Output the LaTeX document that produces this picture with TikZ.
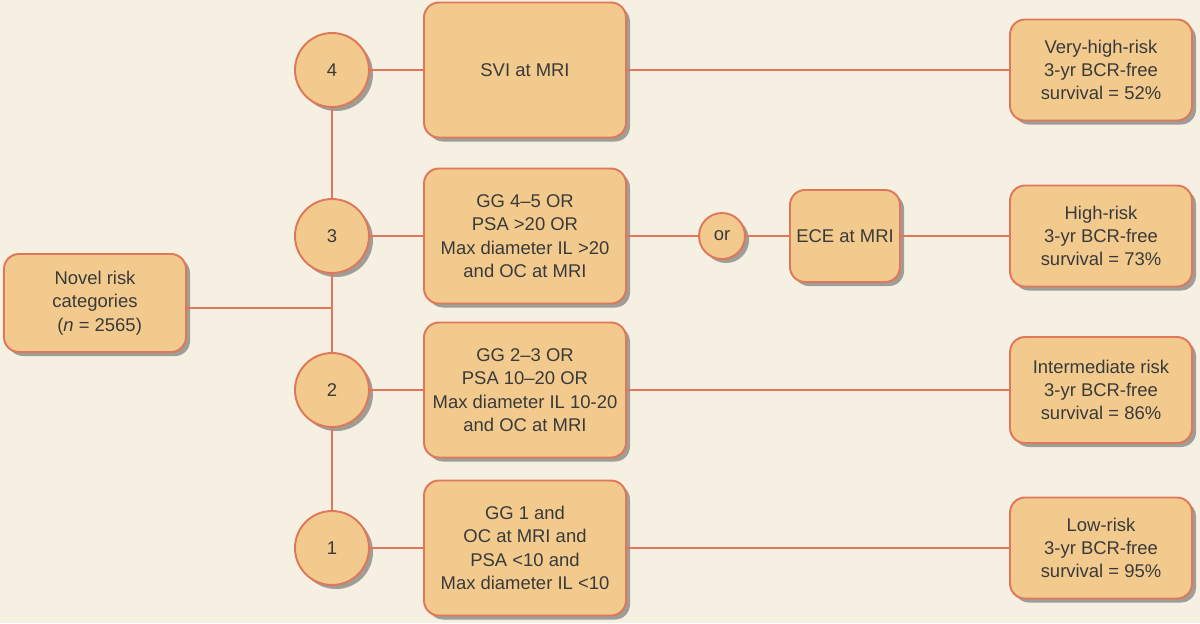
\documentclass[tikz,border=0pt]{standalone}
\usepackage{fontspec}
\setmainfont{Liberation Sans}
\usetikzlibrary{shadows}

\definecolor{paper}{HTML}{F5F0E1}
\definecolor{boxfill}{HTML}{F2CA8E}
\definecolor{boxline}{HTML}{E0775A}
\definecolor{ink}{HTML}{3A3A3A}

\tikzset{
  riskbox/.style={draw=boxline, fill=boxfill, line width=1.1pt, rounded corners=0.3cm,
    align=center, text=ink, font=\fontsize{10.5}{13.3}\selectfont, inner sep=0pt,
    drop shadow={shadow xshift=0.08cm, shadow yshift=-0.08cm, fill=black!60, opacity=0.6}},
  levelnode/.style={circle, draw=boxline, fill=boxfill, line width=1.1pt, text=ink,
    font=\fontsize{10.5}{13.3}\selectfont, inner sep=0pt,
    drop shadow={shadow xshift=0.08cm, shadow yshift=-0.08cm, fill=black!60, opacity=0.6}},
  link/.style={draw=boxline, line width=0.9pt}
}

\begin{document}
\begin{tikzpicture}
    \fill[paper] (0,0) rectangle (24,-12.46);
    \useasboundingbox (0,0) rectangle (24,-12.46);

    % start box
    \node[riskbox, minimum width=3.64cm, minimum height=1.96cm] (novel) at (1.90,-6.06)
        {Novel risk\\categories\\\hspace{0.5em}(\textit{n} = 2565)};

    % levels
    \node[levelnode, minimum size=1.48cm] (l4) at (6.64,-1.40) {4};
    \node[levelnode, minimum size=1.48cm] (l3) at (6.64,-4.72) {3};
    \node[levelnode, minimum size=1.48cm] (l2) at (6.64,-7.80) {2};
    \node[levelnode, minimum size=1.48cm] (l1) at (6.64,-10.96) {1};

    % criteria
    \node[riskbox, minimum width=4.04cm, minimum height=2.70cm] (c4) at (10.50,-1.40) {SVI at MRI};
    \node[riskbox, minimum width=4.04cm, minimum height=2.70cm] (c3) at (10.50,-4.72)
        {GG 4–5 OR\\PSA >20 OR\\Max diameter IL >20\\and OC at MRI};
    \node[riskbox, minimum width=4.04cm, minimum height=2.70cm] (c2) at (10.50,-7.80)
        {GG 2–3 OR\\PSA 10–20 OR\\Max diameter IL 10-20\\and OC at MRI};
    \node[riskbox, minimum width=4.04cm, minimum height=2.70cm] (c1) at (10.50,-10.96)
        {GG 1 and\\OC at MRI and\\PSA <10 and\\Max diameter IL <10};

    \node[levelnode, minimum size=0.92cm] (or) at (14.44,-4.72) {or};
    \node[riskbox, minimum width=2.20cm, minimum height=1.84cm] (ece) at (16.90,-4.72) {ECE at MRI};

    % outcomes
    \node[riskbox, minimum width=3.64cm, minimum height=2.02cm] (r4) at (22.02,-1.40)
        {Very-high-risk\\3-yr BCR-free\\survival = 52\%};
    \node[riskbox, minimum width=3.64cm, minimum height=2.02cm] (r3) at (22.02,-4.72)
        {High-risk\\3-yr BCR-free\\survival = 73\%};
    \node[riskbox, minimum width=3.64cm, minimum height=2.12cm] (r2) at (22.02,-7.80)
        {Intermediate risk\\3-yr BCR-free\\survival = 86\%};
    \node[riskbox, minimum width=3.64cm, minimum height=2.02cm] (r1) at (22.02,-10.96)
        {Low-risk\\3-yr BCR-free\\survival = 95\%};

    % connectors
    \coordinate (jn) at (6.64,-6.16);
    \draw[link] (l4) -- (l3);
    \draw[link] (l3) -- (l2);
    \draw[link] (l2) -- (l1);
    \draw[link] (novel.east |- jn) -- (jn);

    \draw[link] (l4) -- (c4);
    \draw[link] (c4) -- (r4);
    \draw[link] (l3) -- (c3);
    \draw[link] (c3) -- (or);
    \draw[link] (or) -- (ece);
    \draw[link] (ece) -- (r3);
    \draw[link] (l2) -- (c2);
    \draw[link] (c2) -- (r2);
    \draw[link] (l1) -- (c1);
    \draw[link] (c1) -- (r1);
\end{tikzpicture}
\end{document}
